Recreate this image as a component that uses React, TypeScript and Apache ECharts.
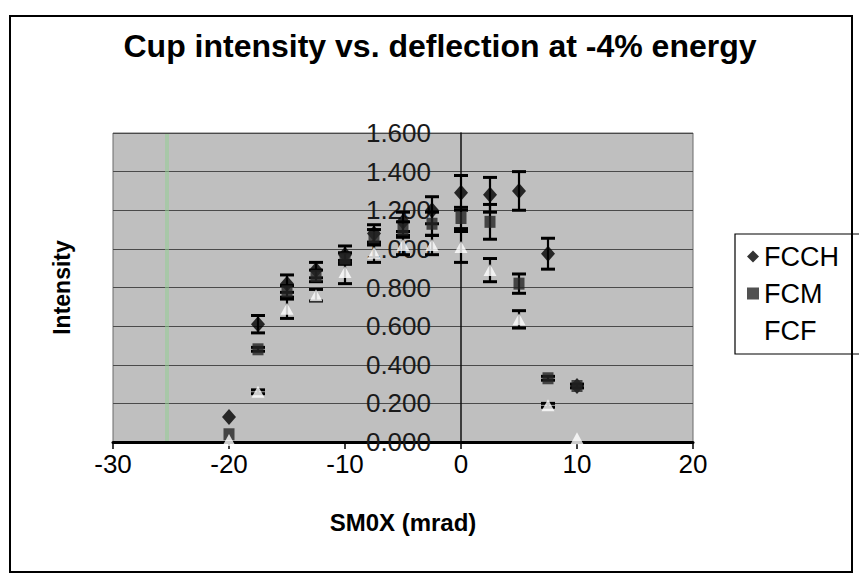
import React, { useEffect, useRef } from "react";
import * as echarts from "echarts";

const xValues = [-20, -17.5, -15, -12.5, -10, -7.5, -5, -2.5, 0, 2.5, 5, 7.5, 10];

const fcch = [0.13, 0.61, 0.82, 0.89, 0.97, 1.08, 1.14, 1.2, 1.29, 1.28, 1.3, 0.975, 0.29];
const fcchErr = [0.0, 0.045, 0.045, 0.04, 0.045, 0.045, 0.05, 0.07, 0.09, 0.09, 0.1, 0.08, 0.0];

const fcm = [0.04, 0.48, 0.78, 0.86, 0.95, 1.06, 1.1, 1.13, 1.16, 1.14, 0.82, 0.33, 0.29];
const fcmErr = [0.0, 0.01, 0.03, 0.03, 0.03, 0.04, 0.04, 0.06, 0.055, 0.09, 0.05, 0.01, 0.01];

const fcf = [0.01, 0.26, 0.69, 0.76, 0.88, 0.98, 1.02, 1.02, 1.01, 0.89, 0.635, 0.19, 0.02];
const fcfErr = [0.0, 0.01, 0.05, 0.03, 0.06, 0.05, 0.05, 0.05, 0.08, 0.06, 0.045, 0.01, 0.0];

const seriesNames = ["FCCH", "FCM", "FCF"];
const xTicks = { min: -30, max: 20, interval: 10 };
const yTicks = { min: 0, max: 1.6, interval: 0.2 };

const FONT = "'Liberation Sans', Arial, sans-serif";

// plot geometry
const GRID_LEFT = 113;
const GRID_WIDTH = 580;
// y axis sits at x = 0 : shift it inward from the grid's left edge
const Y_AXIS_SHIFT = ((0 - xTicks.min) / (xTicks.max - xTicks.min)) * GRID_WIDTH;

export default function App() {
  const ref = useRef<HTMLDivElement>(null);

  useEffect(() => {
    document.body.style.margin = "0";
    const chart = echarts.init(ref.current!, null, { renderer: "svg" });

    const pts = (vals: (number | null)[]) =>
      xValues.map((x, i) => (vals[i] == null ? null : [x, vals[i]])).filter(Boolean);
    const errs = (vals: number[], e: number[]) =>
      xValues.map((x, i) => [x, vals[i] - e[i], vals[i] + e[i]]).filter((d, i) => e[i] > 0);

    const errSeries = (name: string, data: number[][]) => ({
      type: "custom",
      name: name + "-err",
      data,
      z: 3,
      silent: true,
      encode: { x: 0, y: [1, 2] },
      renderItem: (params: any, api: any) => {
        const x = api.value(0);
        const lo = api.coord([x, api.value(1)]);
        const hi = api.coord([x, api.value(2)]);
        const cw = 7;
        const st = { stroke: "#000", lineWidth: 2.2 };
        return {
          type: "group",
          children: [
            { type: "line", shape: { x1: lo[0], y1: lo[1], x2: hi[0], y2: hi[1] }, style: st },
            { type: "line", shape: { x1: hi[0] - cw, y1: hi[1], x2: hi[0] + cw, y2: hi[1] }, style: { stroke: "#000", lineWidth: 3 } },
            { type: "line", shape: { x1: lo[0] - cw, y1: lo[1], x2: lo[0] + cw, y2: lo[1] }, style: { stroke: "#000", lineWidth: 3 } },
          ],
        };
      },
    });

    const option: any = {
      animation: false,
      backgroundColor: "#ffffff",
      textStyle: { fontFamily: FONT },
      title: {
        text: "Cup intensity vs. deflection at -4% energy",
        left: 435,
        top: 25,
        textAlign: "center",
        textStyle: { fontSize: 32, fontWeight: "bold", fontFamily: FONT, color: "#000" },
      },
      legend: {
        orient: "vertical",
        left: 735,
        top: 234,
        itemWidth: 12,
        itemHeight: 12,
        itemGap: 10,
        padding: [9, 30, 10, 12],
        backgroundColor: "#ffffff",
        borderColor: "#000",
        borderWidth: 1.2,
        borderRadius: 0,
        textStyle: { fontSize: 27, fontFamily: FONT, color: "#000" },
        data: [
          { name: seriesNames[0], icon: "diamond" },
          { name: seriesNames[1], icon: "rect" },
          { name: seriesNames[2], icon: "triangle" },
        ],
      },
      grid: {
        left: GRID_LEFT,
        top: 133,
        width: GRID_WIDTH,
        height: 309,
        containLabel: false,
        outerBoundsMode: "none",
        show: true,
        backgroundColor: "#bfbfbf",
        borderColor: "#6a6a6a",
        borderWidth: 1,
      },
      xAxis: {
        type: "value",
        min: xTicks.min,
        max: xTicks.max,
        interval: xTicks.interval,
        name: "SM0X (mrad)",
        nameLocation: "middle",
        nameGap: 68,
        nameTextStyle: { fontSize: 24, fontWeight: "bold", fontFamily: FONT, color: "#000" },
        axisLine: { show: true, onZero: true, lineStyle: { color: "#000", width: 3 } },
        axisTick: { show: true, inside: false, length: 7, lineStyle: { color: "#000", width: 1.5 } },
        axisLabel: { margin: 9, fontSize: 26, fontFamily: FONT, color: "#000" },
        splitLine: { show: false },
      },
      yAxis: {
        type: "value",
        position: "left",
        offset: -Y_AXIS_SHIFT,
        min: yTicks.min,
        max: yTicks.max,
        interval: yTicks.interval,
        name: "Intensity",
        nameLocation: "middle",
        nameGap: 388,
        nameRotate: 90,
        nameTextStyle: { fontSize: 23, fontWeight: "bold", fontFamily: FONT, color: "#000" },
        axisLine: { show: true, onZero: false, lineStyle: { color: "#111", width: 1.5 } },
        axisTick: { show: false },
        axisLabel: {
          margin: 30,
          fontSize: 26,
          fontFamily: FONT,
          color: "#1a1a1a",
          formatter: (v: number) => v.toFixed(3),
        },
        splitLine: { show: true, lineStyle: { color: "#4a4a4a", width: 1.2 } },
      },
      graphic: [
        {
          type: "rect",
          z: 1,
          silent: true,
          shape: { x: 165, y: 134, width: 4, height: 307 },
          style: { fill: "rgba(150,205,150,0.55)" },
        },
        {
          type: "rect",
          z: 100,
          silent: true,
          shape: { x: 10, y: 16, width: 842, height: 556 },
          style: { fill: "none", stroke: "#000", lineWidth: 2 },
        },
      ],
      series: [
        errSeries("FCCH", errs(fcch, fcchErr)),
        errSeries("FCM", errs(fcm, fcmErr)),
        errSeries("FCF", errs(fcf, fcfErr)),
        {
          type: "scatter",
          name: seriesNames[0],
          data: pts(fcch),
          symbol: "diamond",
          symbolSize: [14, 16],
          z: 4,
          itemStyle: { color: "#000000" },
        },
        {
          type: "scatter",
          name: seriesNames[1],
          data: pts(fcm),
          symbol: "rect",
          symbolSize: [11, 12],
          z: 5,
          itemStyle: { color: "#262626" },
        },
        {
          type: "scatter",
          name: seriesNames[2],
          data: pts(fcf),
          symbol: "triangle",
          symbolSize: [13, 12],
          z: 6,
          itemStyle: { color: "#ffffff" },
        },
      ],
    };

    chart.setOption(option);
    return () => chart.dispose();
  }, []);

  return <div ref={ref} style={{ width: 859, height: 584 }} />;
}
